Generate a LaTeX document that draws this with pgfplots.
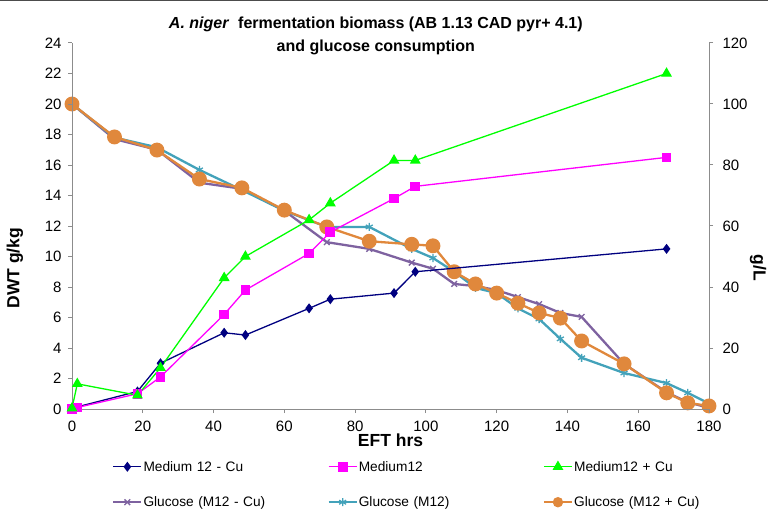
\documentclass[border=0pt]{standalone}
\usepackage{pgfplots}
\pgfplotsset{compat=1.18}
\usepackage{fontspec}
\setmainfont{Liberation Sans}

\definecolor{cNavy}{HTML}{000080}
\definecolor{cMag}{HTML}{FF00FF}
\definecolor{cGreen}{HTML}{00FF00}
\definecolor{cPurple}{HTML}{7E62A0}
\definecolor{cTeal}{HTML}{43A2BA}
\definecolor{cOrange}{HTML}{E0883C}
\definecolor{axgray}{HTML}{8C8C8C}

\pgfplotsset{
  base/.style={
    scale only axis, width=637pt, height=366pt,
    at={(72pt,103pt)}, anchor=south west,
    xmin=0, xmax=180,
    axis line style={axgray, line width=1pt},
    tick style={axgray, line width=1pt},
    tick align=outside, major tick length=4pt,
    /pgf/number format/assume math mode=true,
    tick label style={font=\fontsize{15}{17}\selectfont},
    label style={font=\fontsize{17.5}{19}\selectfont\bfseries},
  },
  medstyle/.style={line width=1.3pt},
  glustyle/.style={line width=2.3pt},
  legend image code/.code={
    \draw[mark repeat=2, mark phase=2] plot coordinates {(0pt,0pt) (14pt,0pt) (28pt,0pt)};
  },
}

\begin{document}
\begin{tikzpicture}[x=1pt, y=1pt]
\useasboundingbox (0,0) rectangle (768,512);
\draw[line width=1.5pt, black!70] (0,511.3) -- (768,511.3);

% glucose, right axis
\begin{axis}[base,
  axis x line=none, axis y line*=right,
  ymin=0, ymax=120, ytick={0,20,...,120},
  yticklabel style={xshift=6pt},
  ylabel={g/L},
  ylabel style={at={(axis description cs:1.077,0.385)}, anchor=center, rotate=180},
]
\addplot[glustyle, cPurple, mark=x, mark size=4pt, mark options={line width=1.3pt}] coordinates {
  (0,100) (12,88.5) (24,85) (36,74.2) (48,72.2) (60,65) (72,54.7) (84,52.5)
  (96,48) (102,46) (108,41) (114,40.3) (120,39) (126,36.7) (132,34.4)
  (138,31.5) (144,30.2) (156,14.8) (168,5.5) (174,2.2) (180,0.4)
};
\addplot[glustyle, cTeal, mark=asterisk, mark size=4pt, mark options={line width=1.3pt}] coordinates {
  (0,100) (12,89) (24,85.8) (36,78.4) (48,71.8) (60,65) (72,59.7) (84,59.7)
  (96,52.5) (102,49.5) (108,45) (114,39.7) (120,38) (126,33) (132,29.5)
  (138,23) (144,16.8) (156,11.8) (168,8.5) (174,5.3) (180,1.8)
};
\addplot[glustyle, cOrange, mark=*, mark size=6.3pt, mark options={fill=cOrange, draw=cOrange}] coordinates {
  (0,100) (12,89.2) (24,84.9) (36,75.4) (48,72.5) (60,65.2) (72,59.7) (84,55)
  (96,54) (102,53.5) (108,45) (114,41) (120,38) (126,34.7) (132,31.5)
  (138,29.8) (144,22.3) (156,14.8) (168,5.3) (174,2) (180,1)
};
\end{axis}

% biomass, left axis
\begin{axis}[base,
  axis x line*=bottom, axis y line*=left,
  ymin=0, ymax=24, ytick={0,2,...,24},
  xtick={0,20,...,180},
  xticklabel style={yshift=-4pt},
  yticklabel style={xshift=-3pt},
  xlabel={EFT hrs}, ylabel={DWT g/kg},
  xlabel style={at={(axis description cs:0.5,-0.0847)}, anchor=center},
  ylabel style={at={(axis description cs:-0.0895,0.385)}, anchor=center},
  title={\textbf{\textit{A. niger}\ \ fermentation biomass (AB 1.13 CAD pyr+ 4.1)}\\\textbf{and glucose consumption}},
  title style={at={(axis description cs:0.477,1.0028)}, anchor=center, align=center,
    font=\fontsize{16}{23}\selectfont},
  legend columns=3,
  legend style={draw=none, fill=none, at={(axis description cs:0.0628,-0.139)}, anchor=north west,
    font=\fontsize{13.7}{16}\selectfont, inner sep=0pt, row sep=22pt,
    /tikz/every even column/.append style={nodes={text width=183pt, align=left, inner sep=1pt}}},
  legend cell align=left,
]
\addplot[medstyle, cNavy, mark=diamond*, mark size=4pt, mark options={fill=cNavy}] coordinates {
  (0,0.05) (18.5,1.15) (25,3.0) (43,5.0) (49,4.85) (67,6.6) (73,7.2) (91,7.6) (97,9.0) (168,10.5)
};
\addlegendentry{Medium 12 - Cu}
\addplot[medstyle, cMag, mark=square*, mark size=4.2pt, mark options={fill=cMag}] coordinates {
  (0,0) (1.5,0.1) (18.5,1.0) (25,2.1) (43,6.2) (49,7.8) (67,10.2) (73,11.6) (91,13.8) (97,14.6) (168,16.5)
};
\addlegendentry{Medium12}
\addplot[medstyle, cGreen, mark=triangle*, mark size=5pt, mark options={fill=cGreen}] coordinates {
  (0,0.05) (1.5,1.65) (18.5,0.9) (25,2.7) (43,8.6) (49,10.0) (67,12.4) (73,13.5) (91,16.3) (97,16.3) (168,22.0)
};
\addlegendentry{Medium12 + Cu}
\addlegendimage{glustyle, cPurple, mark=x, mark size=4pt, mark options={line width=1.3pt}}
\addlegendentry{Glucose (M12 - Cu)}
\addlegendimage{glustyle, cTeal, mark=asterisk, mark size=4pt, mark options={line width=1.3pt}}
\addlegendentry{Glucose (M12)}
\addlegendimage{glustyle, cOrange, mark=*, mark size=4pt, mark options={fill=cOrange, draw=cOrange}}
\addlegendentry{Glucose (M12 + Cu)}
\end{axis}
\end{tikzpicture}
\end{document}
